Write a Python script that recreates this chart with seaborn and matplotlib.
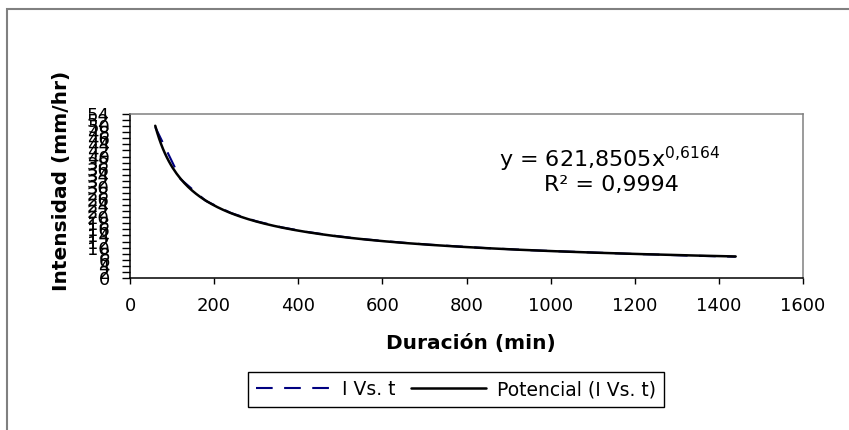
#!/usr/bin/env python3
# -*- coding: utf-8 -*-

import numpy as np
import pandas as pd
import matplotlib
matplotlib.use("Agg")
import matplotlib.pyplot as plt
import seaborn as sns
from matplotlib.patches import Rectangle

# Duration (min) vs intensity (mm/hr)
duracion = [60, 120, 180, 240, 300, 360, 420, 480, 540, 600, 660, 720,
            780, 840, 900, 960, 1020, 1080, 1140, 1200, 1260, 1320, 1380, 1440]
intensidad = [49.7, 32.6, 25.4, 21.4, 18.7, 16.7, 15.2, 14.0, 13.0, 12.2, 11.5, 10.9,
              10.4, 9.9, 9.5, 9.1, 8.8, 8.5, 8.2, 7.9, 7.7, 7.4, 7.2, 7.0]
x_ticks = [0, 200, 400, 600, 800, 1000, 1200, 1400, 1600]
y_ticks = list(range(0, 56, 2))
ecuacion = "y = 621,8505x$^{0{,}6164}$"
r2_texto = "R² = 0,9994"

df = pd.DataFrame({"t": duracion, "I": intensidad})

# power trend line fitted on the data (like Excel "Potencial")
b, ln_a = np.polyfit(np.log(df["t"]), np.log(df["I"]), 1)
t_fit = np.linspace(df["t"].min(), df["t"].max(), 300)
fit = pd.DataFrame({"t": t_fit, "I": np.exp(ln_a) * t_fit ** b})

sns.set_theme(style="white")
plt.rcParams["font.family"] = ["DejaVu Sans"]
plt.rcParams["text.color"] = "black"
plt.rcParams["axes.labelcolor"] = "black"
plt.rcParams["xtick.color"] = "black"
plt.rcParams["ytick.color"] = "black"

W, H = 849, 430
fig = plt.figure(figsize=(W / 100, H / 100), dpi=100)
ax = fig.add_axes([130 / W, 1 - 278 / H, (803 - 130) / W, (278 - 114) / H])

sns.lineplot(data=df, x="t", y="I", ax=ax, color="#000080", lw=1.5,
             linestyle=(0, (8, 5.5)), label="I Vs. t")
sns.lineplot(data=fit, x="t", y="I", ax=ax, color="black", lw=1.8,
             label="Potencial (I Vs. t)")

ax.set_xlim(0, 1600)
ax.set_ylim(0, 54)
ax.set_xticks(x_ticks)
ax.set_yticks(y_ticks)
ax.tick_params(axis="x", direction="out", length=4.5, width=1, pad=9,
               labelsize=13, colors="black", bottom=True)
ax.tick_params(axis="y", direction="out", length=5.5, width=1, pad=9,
               labelsize=13, colors="black", left=True)
ax.set_xlabel("")
ax.set_ylabel("")
for side in ["left", "bottom"]:
    ax.spines[side].set_color("black")
    ax.spines[side].set_linewidth(1.1)
for side in ["top", "right"]:
    ax.spines[side].set_color("#808080")
    ax.spines[side].set_linewidth(1.1)
ax.get_legend().remove()

# axis titles
fig.text(471 / W, 1 - 344 / H, "Duración (min)", ha="center", va="center",
         fontsize=14.5, fontweight="bold", color="black")
fig.text(62 / W, 1 - 181 / H, "Intensidad (mm/hr)", ha="center", va="center",
         rotation=90, fontsize=14.5, fontweight="bold", color="black")

# trend line equation
fig.text(610 / W, 1 - 159 / H, ecuacion, ha="center", va="center", fontsize=16,
         color="black")
fig.text(611 / W, 1 - 185 / H, r2_texto, ha="center", va="center", fontsize=16,
         color="black")

# legend at the bottom
handles, labels = ax.get_legend_handles_labels()
leg = fig.legend(handles, labels, loc="center", bbox_to_anchor=(456 / W, 1 - 389.5 / H),
                 ncol=2, fontsize=13.5, frameon=True, fancybox=False, edgecolor="black",
                 framealpha=1, handlelength=4, handletextpad=0.6, columnspacing=0.8,
                 borderpad=0.45, borderaxespad=0)
leg.get_frame().set_linewidth(1.0)
for txt in leg.get_texts():
    txt.set_color("black")

# outer chart frame (only left and top edges fall inside the picture)
fig.add_artist(Rectangle((7 / W, -0.5), 2, 1.5 - 9 / H, transform=fig.transFigure,
                         fill=False, edgecolor="#808080", lw=1.5, clip_on=False))

fig.savefig("out.png", dpi=100)
